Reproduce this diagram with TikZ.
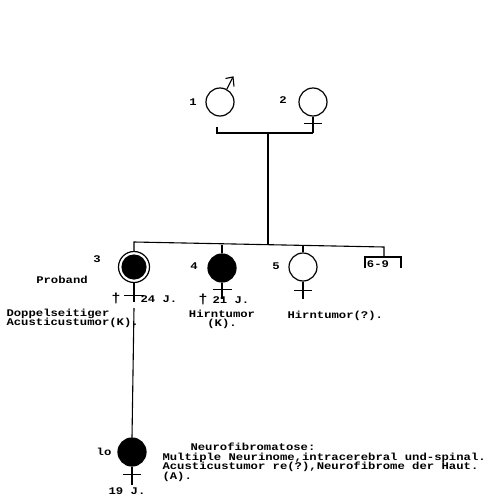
\documentclass[tikz,border=0pt]{standalone}
\usepackage{fontspec}
\setmainfont{Liberation Mono}[FakeStretch=1.2]
\begin{document}
\begin{tikzpicture}[x=1pt,y=-1pt,line width=1.1pt,
  txt/.style={font=\bfseries\fontsize{10.2}{9.5}\selectfont,inner sep=0pt,text=black,anchor=base},
  tw/.style={txt,anchor=base west},
  indiv/.style={circle,draw=black,minimum size=28pt,inner sep=0pt,line width=1.2pt},
  aff/.style={indiv,fill=black},
  dag/.style={txt,font=\bfseries\fontsize{13}{13}\selectfont},
]
\useasboundingbox (0,0) rectangle (487,498);
% generation I
\node[indiv] (p1) at (220,102) {};
\node[indiv] (p2) at (313,102) {};
\node[txt] (l1) at (193,105) {1};
\node[txt] (l2) at (283,103) {2};
\coordinate (tip1) at (233,77);
\draw (p1.62) -- (tip1);
\draw (225.5,78.5) -- (tip1) -- (234,86.5);
\coordinate (m1) at (217,127);
\coordinate (m2) at (217,133);
\draw (p2.south) -- (p2.south |- m2);
\draw ([shift={(-9,7)}]p2.south) -- ++(18,0);
\draw (m1) -- (m2) -- (p2.south |- m2);
\coordinate (md) at (268,133);
\coordinate (sd) at (268,244);
\draw (md) -- (sd);
% generation II
\coordinate (sl) at (134,242);
\coordinate (sr) at (384,247);
\coordinate (sb) at (384,257);
\node[indiv,minimum size=31pt] (p3) at (134,267) {};
\fill[black] (p3.center) circle (12.6);
\node[aff] (p4) at (222,268) {};
\node[indiv] (p5) at (303,267) {};
\draw (p3.north) -- (sl) -- (sr) -- (sb);
\draw (p4.north) -- (222,244.5);
\draw (p5.north) -- (303,246);
\coordinate (bl) at (365,257);
\coordinate (br) at (401,257);
\draw ([shift={(0,11)}]bl) -- (bl) -- (br) -- ([shift={(0,11)}]br);
\node[txt] (r69) at (378,267.5) {6-9};
% crosses
\draw (p3.south) -- ++(0,19);
\draw ([shift={(-10,12)}]p3.south) -- ++(20,0);
\draw (p4.south) -- ++(0,16);
\draw ([shift={(-9.5,7)}]p4.south) -- ++(19,0);
\draw (p5.south) -- ++(0,17);
\draw ([shift={(-9,9)}]p5.south) -- ++(18,0);
% labels II
\node[txt] (l3) at (97,262) {3};
\node[txt] (prob) at (62,283) {Proband};
\node[dag] (d3) at (116,302) {†};
\node[tw] (a3) at (140,302) {24 J.};
\node[tw] (t3a) at (6,316) {Doppelseitiger};
\node[tw] (t3b) at (6,325.5) {Acusticustumor(K).};
\node[txt] (l4) at (194,269) {4};
\node[dag] (d4) at (203,303) {†};
\node[tw] (a4) at (212,303) {21 J.};
\node[txt] (t4a) at (222,317) {Hirntumor};
\node[txt] (t4b) at (222,326.5) {(K).};
\node[txt] (l5) at (276,269) {5};
\node[tw] (t5) at (287,318) {Hirntumor(?).};
% generation III
\coordinate (p3d) at (134,308);
\node[aff] (p10) at (132,452) {};
\draw (p3d) -- (p10.north);
\draw (p10.south) -- ++(0,18);
\draw ([shift={(-9,8)}]p10.south) -- ++(18,0);
\node[txt] (l10) at (104,455) {lo};
\node[txt] (a10) at (127,494) {19 J.};
\node[tw] (n1) at (190,450) {Neurofibromatose:};
\node[tw] (n2) at (162,460) {Multiple Neurinome,intracerebral und-spinal.};
\node[tw] (n3) at (162,469.5) {Acusticustumor re(?),Neurofibrome der Haut.};
\node[tw] (n4) at (162,479) {(A).};
\end{tikzpicture}
\end{document}
